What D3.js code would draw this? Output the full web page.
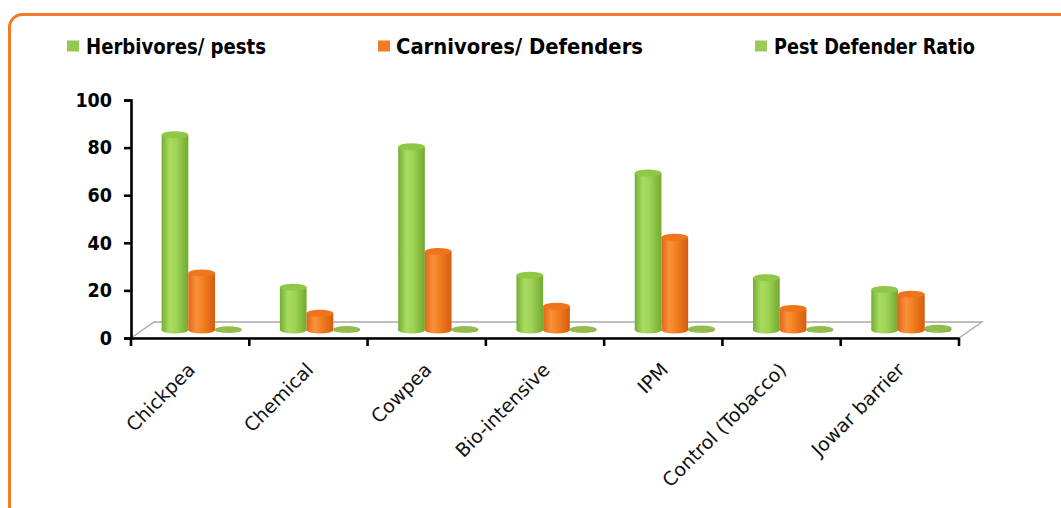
<!DOCTYPE html>
<html>
<head>
<meta charset="utf-8">
<script src="https://cdn.jsdelivr.net/npm/d3@7/dist/d3.min.js"></script>
<style>
  html, body { margin: 0; padding: 0; background: #ffffff; }
  svg { display: block; }
</style>
</head>
<body>
<svg id="chart" width="1061" height="508"></svg>
<script>
// Arthropod counts per treatment
const categories = ["Chickpea", "Chemical", "Cowpea", "Bio-intensive", "IPM", "Control (Tobacco)", "Jowar barrier"];
const herbivores = [82, 18, 77, 23, 66, 22, 17];
const carnivores = [24, 7, 33, 10, 39, 9, 15];
const pestDefenderRatio = [0.3, 0.4, 0.4, 0.4, 0.6, 0.4, 0.9];
const seriesNames = ["Herbivores/ pests", "Carnivores/ Defenders", "Pest Defender Ratio"];
const yTicks = [0, 20, 40, 60, 80, 100];

const svg = d3.select("#chart");

// Orange rounded frame (runs off the right and bottom edges)
svg.append("rect")
  .attr("x", 9.5).attr("y", 14.5)
  .attr("width", 1080).attr("height", 520)
  .attr("rx", 13).attr("ry", 13)
  .attr("fill", "none")
  .attr("stroke", "#f47a2b")
  .attr("stroke-width", 3);

const plot = { left: 131, right: 959, top: 100, bottom: 338 };
// depth of the 3D floor
const depth = { dx: 23, dy: -16 };

const x0 = d3.scaleBand().domain(categories).range([plot.left, plot.right]).paddingInner(0).paddingOuter(0);
const x1 = d3.scaleBand().domain(seriesNames).range([19.1, x0.bandwidth() - 19.1]).padding(0);
const y = d3.scaleLinear().domain([0, 100]).range([plot.bottom, plot.top]);

const defs = svg.append("defs");
function cylGradient(id, stops) {
  const g = defs.append("linearGradient").attr("id", id)
    .attr("x1", "0%").attr("x2", "100%").attr("y1", "0%").attr("y2", "0%");
  stops.forEach(s => g.append("stop").attr("offset", s[0]).attr("stop-color", s[1]));
}
cylGradient("gGreen", [["0%", "#74ad33"], ["30%", "#a9db62"], ["55%", "#9fd456"], ["100%", "#72aa30"]]);
cylGradient("gOrange", [["0%", "#e2661a"], ["30%", "#f8923a"], ["55%", "#f1801f"], ["100%", "#d65c10"]]);
cylGradient("gRatio", [["0%", "#86b043"], ["40%", "#a2c862"], ["100%", "#82ab3f"]]);

const styles = [
  { body: "url(#gGreen)", top: "#8fc847", legend: "#92c84d" },
  { body: "url(#gOrange)", top: "#f0741c", legend: "#f27a22" },
  { body: "url(#gRatio)", top: "#93bb4e", legend: "#9bc95a" }
];

// Floor of the 3D plot area
const floor = [
  [plot.left, plot.bottom],
  [plot.left + depth.dx, plot.bottom + depth.dy],
  [plot.right + depth.dx, plot.bottom + depth.dy],
  [plot.right, plot.bottom]
];
svg.append("path")
  .attr("d", d3.line()(floor) + "Z")
  .attr("fill", "#ffffff")
  .attr("stroke", "#a9a9a9")
  .attr("stroke-width", 1.3);

// Cylinders, drawn at mid depth
const values = [herbivores, carnivores, pestDefenderRatio];
const ry = 3.5;
const midDx = depth.dx / 2, midDy = depth.dy / 2;
const bars = svg.append("g");
categories.forEach((cat, i) => {
  seriesNames.forEach((s, k) => {
    const v = values[k][i];
    const w = x1.bandwidth();
    const rx = w / 2;
    const cx = x0(cat) + x1(s) + rx + midDx;
    const yBase = y(0) + midDy;
    const yTop = y(v) + midDy;
    const e = ry - (k === 2 ? 0.5 : 0);
    const g = bars.append("g");
    g.append("ellipse").attr("cx", cx).attr("cy", yBase).attr("rx", rx).attr("ry", e)
      .attr("fill", styles[k].body);
    g.append("rect").attr("x", cx - rx).attr("y", yTop).attr("width", w).attr("height", Math.max(0, yBase - yTop))
      .attr("fill", styles[k].body);
    g.append("ellipse").attr("cx", cx).attr("cy", yTop).attr("rx", rx).attr("ry", e)
      .attr("fill", styles[k].top);
  });
});

// Axes
const yAxis = d3.axisLeft(y).tickValues(yTicks).tickSize(7).tickPadding(12).tickFormat(d3.format("d"));
const gy = svg.append("g").attr("transform", `translate(${plot.left},0)`).call(yAxis);
gy.select(".domain").attr("stroke", "#000").attr("stroke-width", 2.6);
gy.selectAll(".tick line").attr("stroke", "#000").attr("stroke-width", 2.6);
gy.selectAll(".tick text")
  .attr("font-family", "'DejaVu Sans Condensed', 'DejaVu Sans', sans-serif")
  .attr("font-weight", "bold")
  .attr("font-size", 19.5)
  .attr("fill", "#000");

const xAxis = d3.axisBottom(x0).tickSize(0).tickFormat("");
const gx = svg.append("g").attr("transform", `translate(0,${plot.bottom})`).call(xAxis);
gx.select(".domain").attr("stroke", "#000").attr("stroke-width", 2.6);
gx.selectAll(".tick").remove();
// tick marks on category boundaries
const boundaries = categories.map(c => x0(c)).concat([plot.right]);
gx.selectAll("line.bound").data(boundaries).enter().append("line")
  .attr("class", "bound")
  .attr("x1", d => d).attr("x2", d => d)
  .attr("y1", 0).attr("y2", 8)
  .attr("stroke", "#000").attr("stroke-width", 2.6);

// Rotated category labels
svg.append("g").selectAll("text").data(categories).enter().append("text")
  .attr("transform", d => `translate(${x0(d) + x0.bandwidth() / 2 + 6},${371}) rotate(-45)`)
  .attr("text-anchor", "end")
  .attr("font-family", "'DejaVu Sans', sans-serif")
  .attr("font-size", 19)
  .attr("fill", "#111")
  .text(d => d);

// Legend
const legendItems = [
  { sq: 67, tx: 86, w: 180 },
  { sq: 378, tx: 396, w: 247 },
  { sq: 755, tx: 774, w: 201 }
];
const lg = svg.append("g");
seriesNames.forEach((s, k) => {
  const it = legendItems[k];
  lg.append("rect").attr("x", it.sq).attr("y", 40.5).attr("width", 12).attr("height", 11)
    .attr("fill", styles[k].legend);
  lg.append("text").attr("x", it.tx).attr("y", 54)
    .attr("font-family", "'DejaVu Sans Condensed', 'DejaVu Sans', sans-serif")
    .attr("font-weight", "bold")
    .attr("font-size", 21)
    .attr("textLength", it.w)
    .attr("lengthAdjust", "spacingAndGlyphs")
    .attr("fill", "#000")
    .text(s);
});
</script>
</body>
</html>
